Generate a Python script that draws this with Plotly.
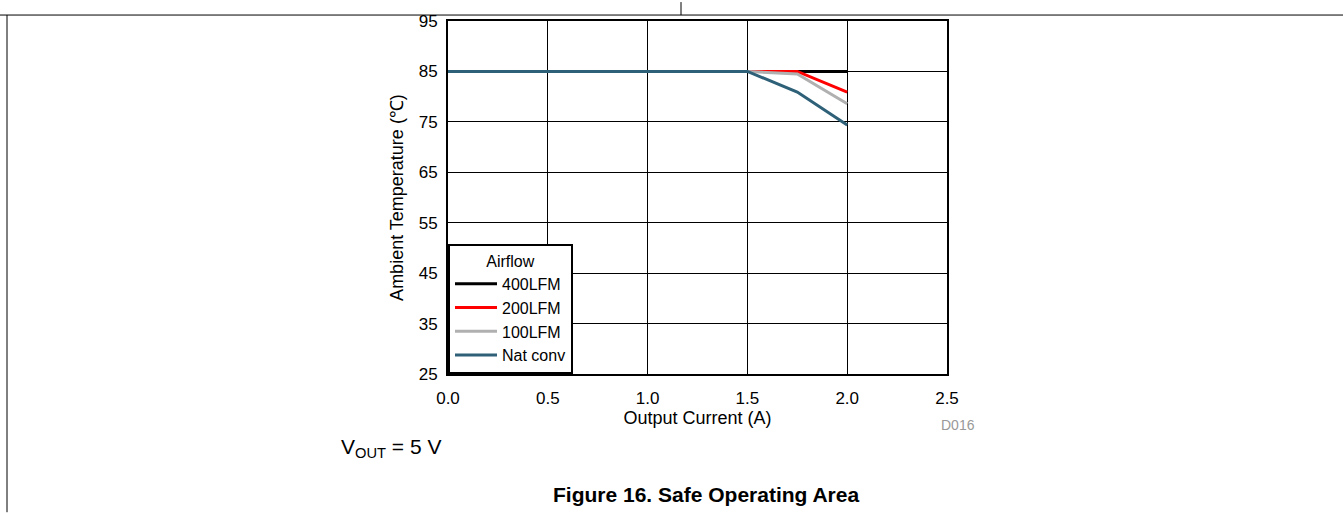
import plotly.graph_objects as go

x_vals = [0.0, 1.5, 1.75, 2.0]
t_400 = [85, 85, 85, 85]
t_200 = [85, 85, 85, 80.9]
t_100 = [85, 85, 84.5, 78.6]
t_nat = [85, 85, 80.9, 74.4]
series_names = ["400LFM", "200LFM", "100LFM", "Nat conv"]
series_colors = ["#000000", "#ff0000", "#b0b0b0", "#2e6078"]
x_ticks = [0.0, 0.5, 1.0, 1.5, 2.0, 2.5]
y_ticks = [25, 35, 45, 55, 65, 75, 85, 95]

W, H = 1343, 513
L, R, T, B = 448, 947, 19, 374
pw, ph = R - L, B - T

def px(x):
    return (x - L) / pw

def py(y):
    return (B - y) / ph

fig = go.Figure()
for name, ys, c in zip(series_names, [t_400, t_200, t_100, t_nat], series_colors):
    fig.add_trace(go.Scatter(x=x_vals, y=ys, mode="lines", name=name,
                             line=dict(color=c, width=3)))

font = "Liberation Sans, Arial, sans-serif"
fig.update_layout(
    width=W, height=H,
    margin=dict(l=L, r=W - R, t=T, b=H - B, pad=0),
    paper_bgcolor="white", plot_bgcolor="white",
    font=dict(family=font, size=17, color="black"),
    showlegend=True,
    legend=dict(x=0, y=0, xanchor="left", yanchor="bottom",
                bgcolor="white", bordercolor="black", borderwidth=2,
                font=dict(size=16), tracegroupgap=0, itemwidth=42,
                title=dict(text="Airflow", side="top center", font=dict(size=16))),
    xaxis=dict(range=[0, 2.5], tickvals=x_ticks,
               ticktext=[f"{v:.1f}" for v in x_ticks],
               tickfont=dict(size=17), ticklabelstandoff=8,
               showgrid=True, gridcolor="#000000", gridwidth=1,
               showline=True, linecolor="black", linewidth=2, mirror=True,
               ticks="", zeroline=False,
               title=dict(text="Output Current (A)", standoff=3, font=dict(size=18))),
    yaxis=dict(range=[25, 95], tickvals=y_ticks,
               tickfont=dict(size=17), ticklabelstandoff=5,
               showgrid=True, gridcolor="#000000", gridwidth=1,
               showline=True, linecolor="black", linewidth=2, mirror=True,
               ticks="", zeroline=False,
               title=dict(text="Ambient Temperature (℃)", standoff=10, font=dict(size=18))),
)

# page border lines
line_style = dict(color="black", width=1)
fig.add_shape(type="line", xref="paper", yref="paper", x0=px(0), x1=px(W), y0=py(13), y1=py(13), line=line_style)
fig.add_shape(type="line", xref="paper", yref="paper", x0=px(7), x1=px(7), y0=py(13), y1=py(H), line=line_style)
fig.add_shape(type="line", xref="paper", yref="paper", x0=px(681), x1=px(681), y0=py(0), y1=py(13), line=line_style)

fig.add_annotation(xref="paper", yref="paper", x=px(958), y=py(425), xanchor="center", yanchor="middle",
                   text="D016", showarrow=False, font=dict(size=14, color="#999999"))
fig.add_annotation(xref="paper", yref="paper", x=px(339), y=py(448), xanchor="left", yanchor="middle",
                   text="V<sub>OUT</sub> = 5 V", showarrow=False, font=dict(size=21))
fig.add_annotation(xref="paper", yref="paper", x=px(706), y=py(495), xanchor="center", yanchor="middle",
                   text="<b>Figure 16. Safe Operating Area</b>", showarrow=False, font=dict(size=21))

fig.write_html("out.html")
